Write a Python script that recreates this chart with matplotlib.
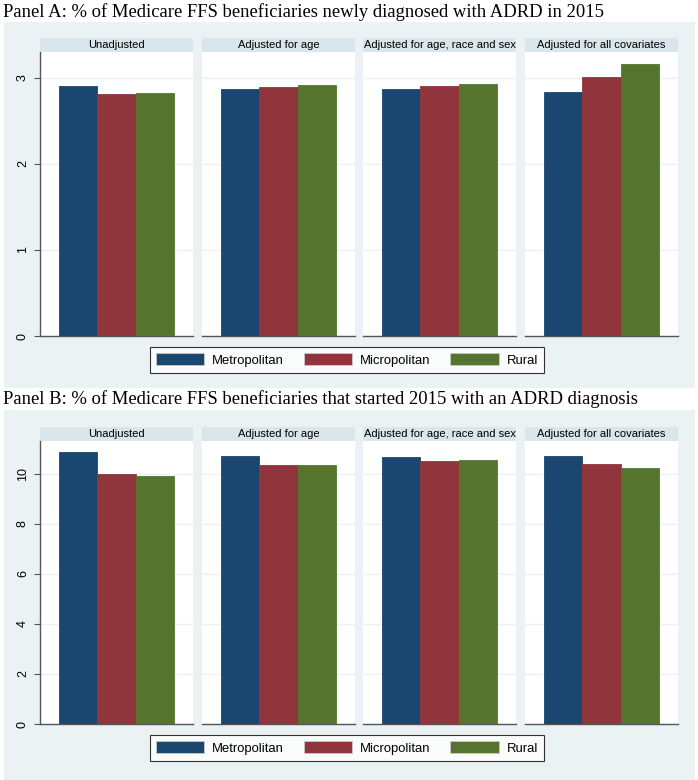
import matplotlib
matplotlib.use("Agg")
import matplotlib.pyplot as plt
from matplotlib.patches import Rectangle, Patch

W, H = 698, 780

groups = ["Metropolitan", "Micropolitan", "Rural"]
panels = ["Unadjusted", "Adjusted for age", "Adjusted for age, race and sex",
          "Adjusted for all covariates"]

a_metro = [2.90, 2.87, 2.87, 2.83]
a_micro = [2.815, 2.89, 2.90, 3.01]
a_rural = [2.82, 2.92, 2.93, 3.16]

b_metro = [10.85, 10.70, 10.65, 10.71]
b_micro = [9.97, 10.35, 10.51, 10.37]
b_rural = [9.90, 10.35, 10.55, 10.23]

title_a = "Panel A: % of Medicare FFS beneficiaries newly diagnosed with ADRD in 2015"
title_b = "Panel B: % of Medicare FFS beneficiaries that started 2015 with an ADRD diagnosis"

colors = ["#1a476f", "#90353b", "#55752f"]
BG = "#eaf2f3"
STRIP = "#d9e6eb"
GRID = "#eaf2f3"
AXC = "#555555"

fig = plt.figure(figsize=(W / 100, H / 100), dpi=100)
fig.patch.set_facecolor("white")


def box(x, y, w, h):
    return [x / W, 1 - (y + h) / H, w / W, h / H]


def bg(y0, y1):
    fig.patches.append(Rectangle((4 / W, 1 - y1 / H), (695 - 4) / W, (y1 - y0) / H,
                                 transform=fig.transFigure, facecolor=BG,
                                 edgecolor="none", zorder=-10))


panel_x = [40, 202, 363, 525]
panel_w = 153


def draw_block(series, ylim, yticks, title, title_y, strip_y, plot_y, plot_h, leg_y, bg_y):
    bg(*bg_y)
    fig.text(3 / W, 1 - title_y / H, title, family="Liberation Serif", fontsize=13.4,
             va="center", ha="left")
    for i, name in enumerate(panels):
        sax = fig.add_axes(box(panel_x[i], strip_y, panel_w, plot_y - strip_y))
        sax.set_facecolor(STRIP)
        sax.set_xticks([])
        sax.set_yticks([])
        for s in sax.spines.values():
            s.set_visible(False)
        sax.text(0.5, 0.5, name, ha="center", va="center", fontsize=8,
                 family="Liberation Sans", transform=sax.transAxes)
        ax = fig.add_axes(box(panel_x[i], plot_y, panel_w, plot_h))
        ax.set_facecolor("white")
        for k, vals in enumerate(series):
            ax.bar(k, vals[i], width=1.0, color=colors[k], edgecolor=colors[k],
                   linewidth=0.6, zorder=3)
        ax.set_xlim(-1, 3)
        ax.set_ylim(*ylim)
        ax.set_yticks(yticks)
        ax.set_xticks([])
        ax.grid(axis="y", color=GRID, linewidth=1.0, zorder=0)
        for s in ["top", "right"]:
            ax.spines[s].set_visible(False)
        ax.spines["bottom"].set_color(AXC)
        ax.spines["bottom"].set_linewidth(1.0)
        if i == 0:
            ax.spines["left"].set_color(AXC)
            ax.spines["left"].set_linewidth(1.0)
            ax.tick_params(axis="y", length=4, width=0.8, color=AXC, labelsize=9,
                           pad=4, labelrotation=90)
            for lab in ax.get_yticklabels():
                lab.set_va("center")
                lab.set_family("Liberation Sans")
        else:
            ax.spines["left"].set_visible(False)
            ax.tick_params(axis="y", length=0, labelleft=False)
    handles = [Patch(facecolor=c, edgecolor="#c8c8c8", linewidth=0.6) for c in colors]
    leg = fig.legend(handles, groups, loc="center", bbox_to_anchor=(347 / W, 1 - leg_y / H),
                     ncol=3, frameon=True, fancybox=False, edgecolor="black",
                     handlelength=3.7, handleheight=1.05, columnspacing=1.5,
                     handletextpad=0.62, borderpad=0.45, borderaxespad=0,
                     prop={"family": "Liberation Sans", "size": 9.4})
    leg.get_frame().set_linewidth(0.8)


draw_block([a_metro, a_micro, a_rural], (0, 3.3), [0, 1, 2, 3], title_a,
           12, 38, 52, 284, 360, (22, 388))
draw_block([b_metro, b_micro, b_rural], (0, 11.3), [0, 2, 4, 6, 8, 10], title_b,
           399, 427, 441, 283, 748, (410, 780))

fig.savefig("out.png", dpi=100, facecolor="white")
